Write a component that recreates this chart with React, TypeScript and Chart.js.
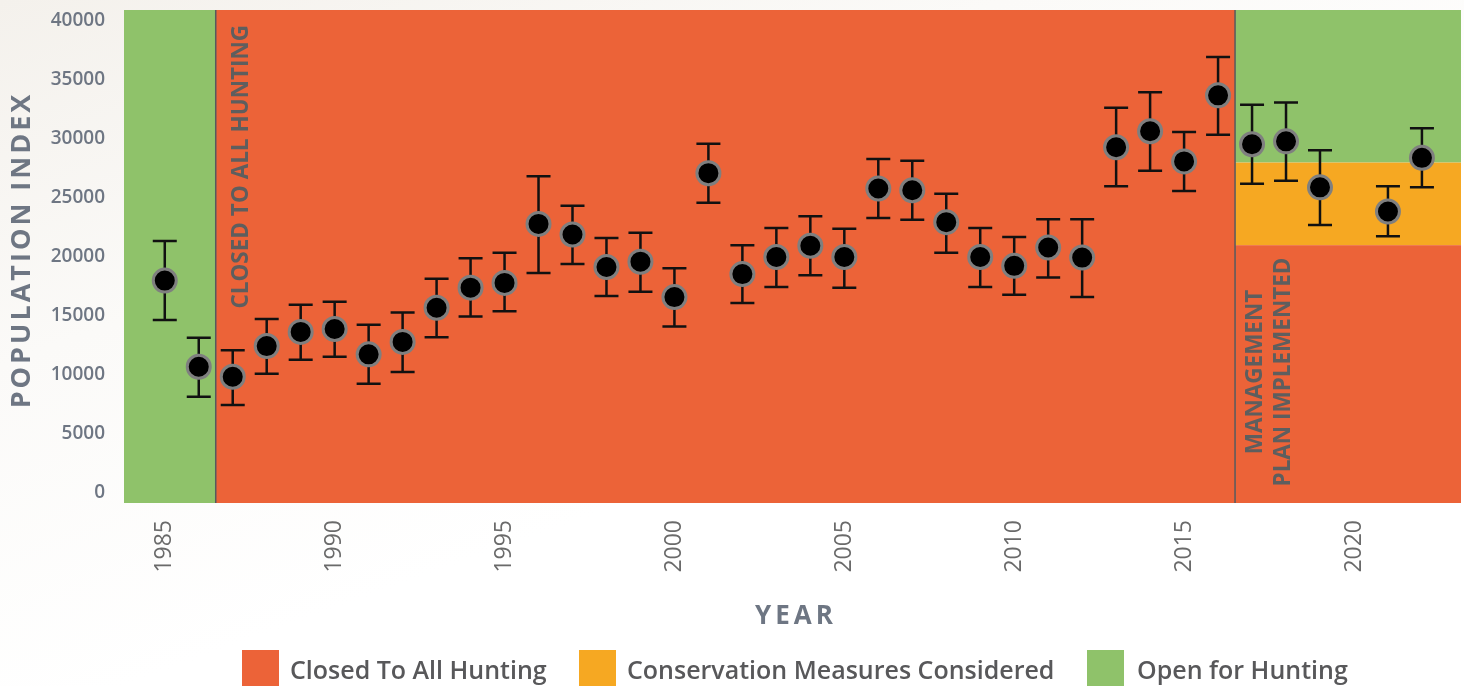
import React, { useEffect, useRef } from "react";
import { Chart, registerables } from "chart.js";

Chart.register(...registerables);

// ---------- data ----------
const years = [1985, 1986, 1987, 1988, 1989, 1990, 1991, 1992, 1993, 1994, 1995, 1996, 1997, 1998, 1999, 2000, 2001, 2002, 2003, 2004, 2005, 2006, 2007, 2008, 2009, 2010, 2011, 2012, 2013, 2014, 2015, 2016, 2017, 2018, 2019, 2021, 2022];
const indexValues = [18000, 10700, 9850, 12450, 13650, 13900, 11750, 12800, 15700, 17400, 17800, 22800, 21900, 19150, 19600, 16600, 27100, 18550, 20000, 20950, 20000, 25800, 25650, 22950, 20000, 19250, 20800, 19950, 29300, 30650, 28100, 33700, 29550, 29800, 25900, 23850, 28400];
const lowerBounds = [14650, 8150, 7450, 10100, 11300, 11550, 9250, 10250, 13200, 14950, 15400, 18650, 19400, 16700, 17050, 14100, 24600, 16100, 17450, 18450, 17400, 23300, 23150, 20350, 17450, 16800, 18250, 16600, 26000, 27300, 25600, 30350, 26200, 26450, 22700, 21750, 25900];
const upperBounds = [21350, 13150, 12100, 14750, 15950, 16200, 14250, 15300, 18150, 19900, 20350, 26850, 24350, 21600, 22050, 19050, 29600, 21000, 22450, 23450, 22400, 28300, 28150, 25350, 22450, 21700, 23200, 23200, 32650, 33950, 30600, 36950, 32900, 33100, 29050, 26000, 30900];

const yTickValues = [0, 5000, 10000, 15000, 20000, 25000, 30000, 35000, 40000];
const xTickValues = [1985, 1990, 1995, 2000, 2005, 2010, 2015, 2020];

// period boundaries (years) and post-plan thresholds (population index)
const periodEdges = [1986.5, 2016.5];
const planThresholds = [21000, 28000];

const legendLabels = ["Closed To All Hunting", "Conservation Measures Considered", "Open for Hunting"];
const annotationClosed = "CLOSED TO ALL HUNTING";
const annotationPlan = ["MANAGEMENT", "PLAN IMPLEMENTED"];
const yTitle = "POPULATION INDEX";
const xTitle = "YEAR";

// ---------- style ----------
const RED = "#EC6338";
const ORANGE = "#F6A822";
const GREEN = "#8FC26A";
const legendColors = [RED, ORANGE, GREEN];
const FONT = "'Open Sans', 'Noto Sans', sans-serif";
const AXIS_GRAY = "#6e7683";

const X_MIN = 1983.8;
const X_MAX = 2023.15;
const Y_MIN = -850;
const Y_MAX = 40930;

const bandsPlugin = {
  id: "bands",
  beforeDatasetsDraw(chart: any) {
    const { ctx, chartArea, scales } = chart;
    const xs = scales.x;
    const ys = scales.y;
    const { left, right, top, bottom } = chartArea;
    const e1 = xs.getPixelForValue(periodEdges[0]);
    const e2 = xs.getPixelForValue(periodEdges[1]);
    const t1 = ys.getPixelForValue(planThresholds[0]);
    const t2 = ys.getPixelForValue(planThresholds[1]);
    ctx.save();
    ctx.fillStyle = GREEN;
    ctx.fillRect(left, top, e1 - left, bottom - top);
    ctx.fillStyle = RED;
    ctx.fillRect(e1, top, e2 - e1, bottom - top);
    ctx.fillStyle = GREEN;
    ctx.fillRect(e2, top, right - e2, t2 - top);
    ctx.fillStyle = ORANGE;
    ctx.fillRect(e2, t2, right - e2, t1 - t2);
    ctx.fillStyle = RED;
    ctx.fillRect(e2, t1, right - e2, bottom - t1);

    // period boundary lines
    ctx.strokeStyle = "#555a5e";
    ctx.lineWidth = 1.5;
    [e1, e2].forEach((x) => {
      ctx.beginPath();
      ctx.moveTo(x, top);
      ctx.lineTo(x, bottom);
      ctx.stroke();
    });

    // annotations
    ctx.fillStyle = "#5e5e5e";
    ctx.font = `bold 22.5px ${FONT}`;
    ctx.textBaseline = "middle";
    ctx.save();
    ctx.translate(e1 + 26, top + 15);
    ctx.rotate(-Math.PI / 2);
    ctx.textAlign = "right";
    ctx.fillText(annotationClosed, 0, 0);
    ctx.restore();

    ctx.font = `bold 22.5px ${FONT}`;
    annotationPlan.forEach((line, i) => {
      ctx.save();
      ctx.translate(e2 + 21 + i * 28, top + 362);
      ctx.rotate(-Math.PI / 2);
      ctx.textAlign = "center";
      ctx.fillText(line, 0, 0);
      ctx.restore();
    });

    // error bars
    ctx.strokeStyle = "#111111";
    ctx.lineWidth = 2.5;
    years.forEach((yr, i) => {
      const x = xs.getPixelForValue(yr);
      const yl = ys.getPixelForValue(lowerBounds[i]);
      const yh = ys.getPixelForValue(upperBounds[i]);
      ctx.beginPath();
      ctx.moveTo(x, yl);
      ctx.lineTo(x, yh);
      ctx.moveTo(x - 12, yl);
      ctx.lineTo(x + 12, yl);
      ctx.moveTo(x - 12, yh);
      ctx.lineTo(x + 12, yh);
      ctx.stroke();
    });
    ctx.restore();
  },
  afterDraw(chart: any) {
    const { ctx } = chart;
    ctx.save();
    ctx.fillStyle = AXIS_GRAY;
    ctx.font = `bold 27px ${FONT}`;
    ctx.textAlign = "center";
    ctx.textBaseline = "middle";
    (ctx as any).letterSpacing = "3px";
    ctx.save();
    ctx.translate(22, 250);
    ctx.rotate(-Math.PI / 2);
    ctx.fillText(yTitle, 0, 0);
    ctx.restore();
    ctx.font = `bold 26px ${FONT}`;
    (ctx as any).letterSpacing = "4px";
    ctx.fillText(xTitle, 796, 617);
    ctx.restore();
  },
};

export default function App() {
  const canvasRef = useRef<HTMLCanvasElement | null>(null);

  useEffect(() => {
    if (!canvasRef.current) return;
    const chart = new Chart(canvasRef.current, {
      type: "scatter",
      data: {
        datasets: [
          {
            label: "Population index",
            data: years.map((yr, i) => ({ x: yr, y: indexValues[i] })),
            pointRadius: 11.5,
            pointHoverRadius: 11.5,
            pointBackgroundColor: "#000000",
            pointBorderColor: "#7f7f7f",
            pointBorderWidth: 3,
            showLine: false,
          },
        ],
      },
      options: {
        responsive: false,
        animation: false,
        layout: { autoPadding: false, padding: { top: 10, right: 3, left: 0, bottom: 0 } },
        plugins: {
          legend: { display: false },
          tooltip: { enabled: false },
        },
        scales: {
          x: {
            type: "linear",
            min: X_MIN,
            max: X_MAX,
            afterBuildTicks: (scale: any) => {
              scale.ticks = xTickValues.map((v) => ({ value: v }));
            },
            afterFit: (scale: any) => {
              scale.height = 183;
              scale.paddingLeft = 0;
              scale.paddingRight = 0;
              scale.paddingTop = 0;
              scale.paddingBottom = 0;
            },
            grid: { display: false, drawTicks: false },
            border: { display: false },
            ticks: {
              minRotation: 90,
              maxRotation: 90,
              padding: 17,
              color: "#6a6a6a",
              font: { family: FONT, size: 23 },
              callback: (v: any) => String(v),
            },
          },
          y: {
            type: "linear",
            min: Y_MIN,
            max: Y_MAX,
            afterBuildTicks: (scale: any) => {
              scale.ticks = yTickValues.map((v) => ({ value: v }));
            },
            afterFit: (scale: any) => {
              scale.width = 124;
              scale.paddingLeft = 0;
              scale.paddingRight = 0;
              scale.paddingTop = 0;
              scale.paddingBottom = 0;
            },
            grid: { display: false, drawTicks: false },
            border: { display: false },
            ticks: {
              padding: 19,
              color: AXIS_GRAY,
              font: { family: FONT, size: 19, weight: "600" },
              callback: (v: any) => String(v),
            },
          },
        },
      },
      plugins: [bandsPlugin],
    });
    return () => chart.destroy();
  }, []);

  const legendPos = [
    { box: 242, text: 290 },
    { box: 579, text: 627 },
    { box: 1087, text: 1137 },
  ];

  return (
    <div
      style={{
        position: "absolute",
        left: 0,
        top: 0,
        width: 1464,
        height: 686,
        overflow: "hidden",
        background: "linear-gradient(160deg, #f4f1ec 0%, #fbfaf8 30%, #ffffff 60%)",
      }}
    >
      <canvas ref={canvasRef} width={1464} height={686} style={{ position: "absolute", left: 0, top: 0 }} />
      {legendLabels.map((lab, i) => (
        <React.Fragment key={lab}>
          <div
            style={{
              position: "absolute",
              left: legendPos[i].box,
              top: 650,
              width: 37,
              height: 37,
              background: legendColors[i],
            }}
          />
          <div
            style={{
              position: "absolute",
              left: legendPos[i].text,
              top: 650,
              height: 37,
              display: "flex",
              alignItems: "center",
              fontFamily: FONT,
              fontWeight: 600,
              fontSize: 25,
              color: "#58585a",
              whiteSpace: "nowrap",
            }}
          >
            {lab}
          </div>
        </React.Fragment>
      ))}
    </div>
  );
}
